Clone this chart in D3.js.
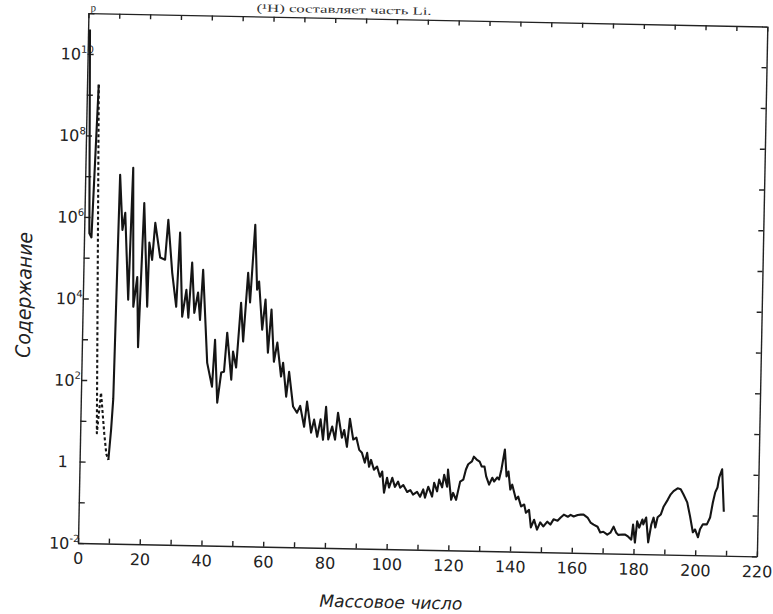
<!DOCTYPE html>
<html>
<head>
<meta charset="utf-8">
<script src="https://cdn.jsdelivr.net/npm/d3@7"></script>
<style>
  body { margin: 0; background: #fff; }
  svg { display: block; }
  .axis path, .axis line { stroke: #222; stroke-width: 1.4; }
  .axis text { font-family: "DejaVu Sans", sans-serif; font-size: 16px; fill: #222; }
</style>
</head>
<body>
<div id="chart-area"><svg></svg></div>
<script>
// mass number / log10 abundance
const hMass = [0.6, 1.7, 2.4, 3.8];
const hLog = [10.6, 5.6, 5.5, 9.25];

const gapMass = [3.8, 5.4, 6.5, 7.8, 8.6, 9.3];
const gapLog = [9.25, 0.7, 1.7, 0.7, 0.2, 0.05];

const mainMass = [
  9.3, 10.0, 10.5, 10.95, 11.3, 12.4, 13.2, 14.7, 15.5, 16.4, 17.5, 18.2, 19.3, 20.9,
  21.2, 22.2, 23.0, 24.8, 26.4, 27.2, 28.8, 30.3, 31.1, 32.3, 33.5, 34.3, 35.2, 36.2,
  37.3, 38.1, 38.8, 40.7, 42.4, 43.1, 44.2, 45.3, 46.2, 47.0, 48.6, 49.0, 50.1, 51.3,
  52.2, 53.4, 54.2, 55.4, 56.4, 57.0, 58.3, 59.2, 60.3, 61.2, 62.3, 63.3, 64.7, 65.3,
  66.5, 67.3, 68.8, 70.1, 71.1, 72.5, 73.3, 74.8, 75.7, 76.8, 77.8, 78.7, 79.5, 80.4,
  81.6, 82.6, 83.4, 84.8, 85.5, 86.5, 87.3, 88.5, 89.5, 90.5, 91.4, 92.4, 93.1, 93.8,
  94.4, 95.4, 96.4, 97.4, 98.1, 98.8, 99.7, 100.4, 101.4, 102.3, 103.3, 104.0, 105.0,
  106.3, 107.3, 108.2, 109.5, 110.5, 111.5, 112.1, 113.1, 114.4, 115.0, 116.0, 116.6,
  117.6, 118.2, 119.2, 119.4, 120.6, 121.2, 122.2, 123.4, 124.4, 125.2, 125.9, 127.1,
  127.7, 128.6, 129.6, 130.3, 131.2, 131.8, 132.8, 133.8, 134.4, 135.4, 136.0, 136.7,
  137.7, 138.4, 139.0, 139.7, 140.3, 141.6, 142.3, 143.3, 144.3, 144.9, 145.9, 146.6,
  147.6, 148.6, 149.6, 150.6, 151.9, 152.9, 153.9, 155.2, 156.2, 157.2, 158.5, 159.4,
  160.4, 161.7, 162.7, 163.6, 164.9, 165.9, 166.9, 168.2, 169.1, 170.1, 171.4, 172.4,
  173.4, 174.3, 175.0, 176.3, 177.2, 178.2, 179.2, 179.7, 180.4, 181.0, 181.7, 182.7,
  183.0, 183.9, 184.7, 185.6, 186.3, 186.9, 187.6, 188.6, 189.5, 190.8, 191.7, 192.6,
  193.9, 194.9, 195.8, 197.1, 198.1, 199.1, 199.8, 200.8, 201.4, 202.3, 203.6, 204.6,
  205.4, 206.1, 206.8, 207.3, 208.2, 209.0
];
const mainLog = [
  0.05, 0.8, 1.55, 4.7, 7.05, 5.7, 6.12, 3.99, 7.23, 3.82, 4.55, 2.83, 6.37, 3.83,
  5.40, 4.98, 5.89, 5.04, 4.99, 5.97, 4.67, 3.84, 5.66, 3.60, 4.26, 3.58, 4.93, 3.70,
  4.20, 3.53, 4.76, 2.48, 1.90, 3.05, 1.51, 2.25, 2.27, 3.23, 2.08, 2.77, 2.38, 3.97,
  3.02, 4.71, 3.98, 5.89, 4.30, 4.50, 3.32, 4.06, 2.76, 3.82, 2.54, 3.01, 2.18, 2.52,
  1.69, 2.30, 1.45, 1.30, 1.47, 0.96, 1.58, 0.82, 1.14, 0.72, 1.15, 0.65, 1.46, 0.66,
  0.98, 0.66, 1.32, 0.71, 0.90, 0.49, 1.18, 0.67, 0.72, 0.42, 0.35, 0.11, 0.35, 0.01,
  0.18, -0.06, 0.02, -0.23, -0.10, -0.62, -0.25, -0.49, -0.25, -0.47, -0.34, -0.49, -0.42,
  -0.59, -0.54, -0.65, -0.58, -0.70, -0.52, -0.72, -0.45, -0.69, -0.35, -0.56, -0.27,
  -0.46, -0.15, -0.44, -0.02, -0.76, -0.59, -0.76, -0.31, -0.26, -0.01, 0.12, 0.19,
  0.31, 0.24, 0.19, 0.07, 0.07, -0.17, -0.37, -0.20, -0.29, -0.19, -0.24, 0.01,
  0.50, -0.16, -0.04, -0.48, -0.36, -0.72, -0.65, -0.89, -0.84, -1.04, -0.97, -1.40,
  -1.21, -1.45, -1.27, -1.37, -1.25, -1.32, -1.19, -1.22, -1.14, -1.07, -1.12, -1.07,
  -1.11, -1.07, -1.06, -1.06, -1.13, -1.25, -1.30, -1.35, -1.49, -1.47, -1.54, -1.49,
  -1.34, -1.49, -1.54, -1.53, -1.53, -1.58, -1.65, -1.28, -1.72, -1.20, -1.35, -1.15,
  -1.27, -1.10, -1.71, -1.27, -1.10, -1.34, -1.09, -1.02, -0.82, -0.65, -0.52, -0.44,
  -0.37, -0.39, -0.51, -0.71, -1.05, -1.44, -1.37, -1.56, -1.36, -1.24, -1.24, -1.07,
  -0.70, -0.45, -0.33, -0.08, 0.12, -0.92
];

const xTicks = d3.range(0, 221, 10);
const yTicks = d3.range(-2, 12);
const yLabelExps = [-2, 0, 2, 4, 6, 8, 10];

const chartSize = { width: 773, height: 614 };
const origin = { x: 78, y: 543 };
const tilt = 1.13; // the scanned page is slightly rotated
const width = 679;
const height = 530;

const x = d3.scaleLinear().domain([0, 220]).range([0, width]);
const y = d3.scaleLog().domain([1e-2, 1e11]).range([0, -height]);

const svg = d3.select("#chart-area svg")
  .attr("width", chartSize.width)
  .attr("height", chartSize.height);

const g = svg.append("g")
  .attr("transform", `translate(${origin.x}, ${origin.y}) rotate(${tilt})`);

// line of the book text above the figure
g.append("text")
  .attr("x", 2).attr("y", -height - 2)
  .attr("font-family", "Liberation Serif, serif")
  .attr("font-size", 11).attr("fill", "#333")
  .text("р");
g.append("text")
  .attr("x", 168).attr("y", -height - 5)
  .attr("font-family", "Liberation Serif, serif")
  .attr("font-size", 11).attr("fill", "#333")
  .attr("textLength", 175).attr("lengthAdjust", "spacingAndGlyphs")
  .text("(¹H) составляет часть Li.");

const powers = yTicks.map(e => Math.pow(10, e));

g.append("g").attr("class", "axis")
  .call(d3.axisBottom(x).tickValues(xTicks).tickSize(-5).tickSizeOuter(0)
    .tickPadding(9.5).tickFormat(d => (d % 20 === 0 ? d : "")));

g.append("g").attr("class", "axis")
  .attr("transform", `translate(0, ${-height})`)
  .call(d3.axisTop(x).tickValues(xTicks).tickSize(-5).tickSizeOuter(0).tickFormat(""));

g.append("g").attr("class", "axis")
  .call(d3.axisLeft(y).tickValues(powers).tickSize(-6).tickSizeOuter(0).tickFormat(""));

g.append("g").attr("class", "axis")
  .attr("transform", `translate(${width}, 0)`)
  .call(d3.axisRight(y).tickValues(powers).tickSize(-5).tickSizeOuter(0).tickFormat(""));

// y tick labels as powers of ten
const labels = g.append("g").attr("class", "axis");
yLabelExps.forEach(e => {
  const t = labels.append("text").attr("y", y(Math.pow(10, e)) + 6);
  if (e === 0) {
    t.attr("x", -17).attr("text-anchor", "middle").text("1");
  } else {
    t.attr("x", e < 0 ? -29 : -27);
    t.append("tspan").text("10");
    t.append("tspan").attr("font-size", 10).attr("dy", -7).text(e);
  }
});

// axis titles
g.append("text")
  .attr("transform", `translate(-52, ${-height / 2 + 18}) rotate(-90)`)
  .attr("text-anchor", "middle")
  .attr("font-family", "DejaVu Sans Condensed, Liberation Sans Narrow, sans-serif")
  .attr("font-style", "italic").attr("font-size", 20).attr("fill", "#222")
  .attr("textLength", 126).attr("lengthAdjust", "spacingAndGlyphs")
  .text("Содержание");

g.append("text")
  .attr("x", x(101.7)).attr("y", 59)
  .attr("text-anchor", "middle")
  .attr("font-family", "DejaVu Sans Condensed, Liberation Sans Narrow, sans-serif")
  .attr("font-style", "italic").attr("font-size", 17).attr("fill", "#222")
  .attr("textLength", 143).attr("lengthAdjust", "spacingAndGlyphs")
  .text("Массовое число");

const line = d3.line()
  .x(d => x(d[0]))
  .y(d => y(Math.pow(10, d[1])));

const drawCurve = (mass, logs, dash) => {
  g.append("path")
    .datum(d3.zip(mass, logs))
    .attr("d", line)
    .attr("fill", "none")
    .attr("stroke", "#151515")
    .attr("stroke-width", 2.1)
    .attr("stroke-linejoin", "round")
    .attr("stroke-dasharray", dash);
};

drawCurve(hMass, hLog, null);
drawCurve(gapMass, gapLog, "3,2.5");
drawCurve(mainMass, mainLog, null);
</script>
</body>
</html>
